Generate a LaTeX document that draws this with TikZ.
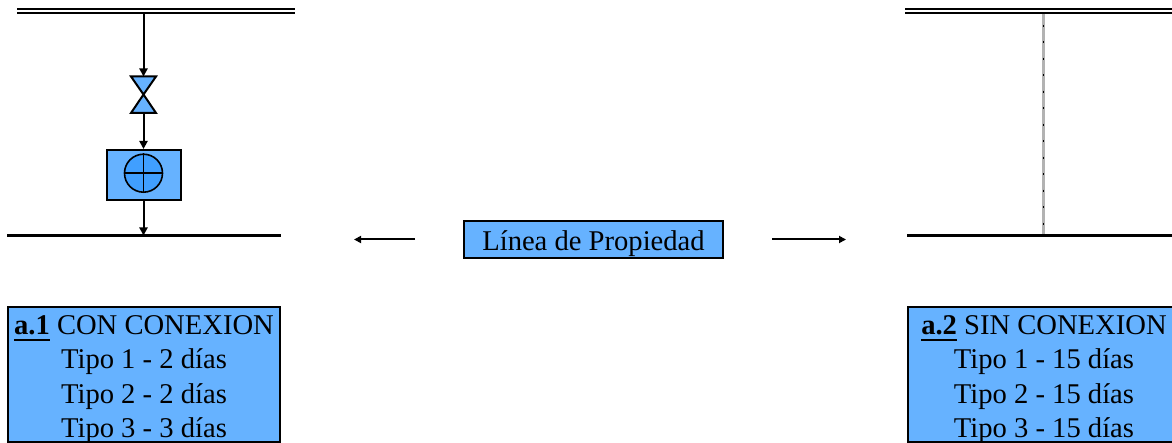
\documentclass[tikz,border=0pt]{standalone}
\usepackage{fontspec}
\setmainfont{Liberation Serif}
\usetikzlibrary{arrows.meta}
\definecolor{boxblue}{HTML}{66B2FF}
\definecolor{discblue}{HTML}{409FFF}
\newcommand{\tagmark}[1]{\setbox0=\hbox{\textbf{#1}}\rlap{\rule[-6.2pt]{\wd0}{2pt}}\box0\relax}
\tikzset{
  x=1pt,y=-1pt,
  busline/.style={line width=2.2pt,black},
  flow/.style={line width=2pt,black,-{Triangle[length=8pt,width=8pt]}},
  pointer/.style={line width=2pt,black,-{Triangle[length=7pt,width=7pt]}},
  bluebox/.style={draw=black,line width=2pt,fill=boxblue,rectangle,inner sep=0pt},
  infobox/.style={bluebox,minimum width=272pt,minimum height=135pt},
  infotext/.style={inner sep=0pt,align=center,font=\fontsize{28.6}{34.2}\selectfont},
  valvepart/.style={draw=black,line width=2pt,fill=boxblue,line join=miter}
}
\begin{document}
\begin{tikzpicture}
\useasboundingbox (0,0) rectangle (1172,443);
% left branch
\coordinate (ltopA) at (17,9.3);
\coordinate (ltopB) at (295,9.3);
\coordinate (ltopC) at (17,13.3);
\coordinate (ltopD) at (295,13.3);
\coordinate (lsrc) at (143.5,13.3);
\coordinate (vtop) at (143.5,76.5);
\coordinate (vmid) at (143.5,94.5);
\coordinate (vbot) at (143.5,113);
\coordinate (lbotA) at (7,235.5);
\coordinate (lbotB) at (281,235.5);
\coordinate (lbotM) at (143.5,235.5);
\draw[busline] (ltopA) -- (ltopB);
\draw[busline] (ltopC) -- (ltopD);
\draw[busline] (lbotA) -- (lbotB);
\draw[valvepart] (131,76.5) -- (156,76.5) -- (vmid) -- cycle;
\draw[valvepart] (131,113) -- (156,113) -- (vmid) -- cycle;
\node[bluebox,minimum width=74pt,minimum height=50pt] (meterbox) at (144,175) {};
\node[circle,draw=black,line width=1.6pt,fill=discblue,minimum size=38pt,inner sep=0pt] (meter) at (143.5,173.2) {};
\draw[line width=1.4pt] (meter.north) -- (meter.south);
\draw[line width=1.4pt] (meter.west) -- (meter.east);
\draw[flow] (lsrc) -- (vtop);
\draw[flow] (vbot) -- (meterbox.north -| vbot);
\draw[flow] (meterbox.south -| lbotM) -- (lbotM);
% right branch
\coordinate (rtopA) at (905,9.3);
\coordinate (rtopB) at (1172,9.3);
\coordinate (rtopC) at (905,13.3);
\coordinate (rtopD) at (1172,13.3);
\coordinate (rsrc) at (1043.5,13.3);
\coordinate (rbotA) at (907,235.5);
\coordinate (rbotB) at (1172,235.5);
\coordinate (rbotM) at (1043.5,234.5);
\draw[line width=3pt,black!30] (rsrc) -- (rbotM);
\draw[line width=1.6pt,black,dash pattern=on 2pt off 14.5pt,dash phase=5.1pt] (rsrc) -- (rbotM);
\draw[busline] (rtopA) -- (rtopB);
\draw[busline] (rtopC) -- (rtopD);
\draw[busline] (rbotA) -- (rbotB);
% centre label
\node[bluebox,minimum width=259pt,minimum height=37pt,font=\fontsize{28.6}{32}\selectfont] (prop) at (593.5,239.5) {\rule{0pt}{28pt}Línea de Propiedad};
\coordinate (pleft) at (354,239.5);
\coordinate (pright) at (846,239.5);
\draw[pointer] (prop.west) ++(-48,0) -- (pleft);
\draw[pointer] (prop.east) ++(48,0) -- (pright);
% info boxes
\node[infobox] (a1) at (144,374.5) {};
\node[infotext] (a1text) at (144,379.5) {\tagmark{a.1} CON CONEXION\\Tipo 1 - 2 días\\Tipo 2 - 2 días\\Tipo 3 - 3 días};
\node[infobox] (a2) at (1044,374.5) {};
\node[infotext] (a2text) at (1044,379.5) {\tagmark{a.2} SIN CONEXION\\Tipo 1 - 15 días\\Tipo 2 - 15 días\\Tipo 3 - 15 días};
\end{tikzpicture}
\end{document}
